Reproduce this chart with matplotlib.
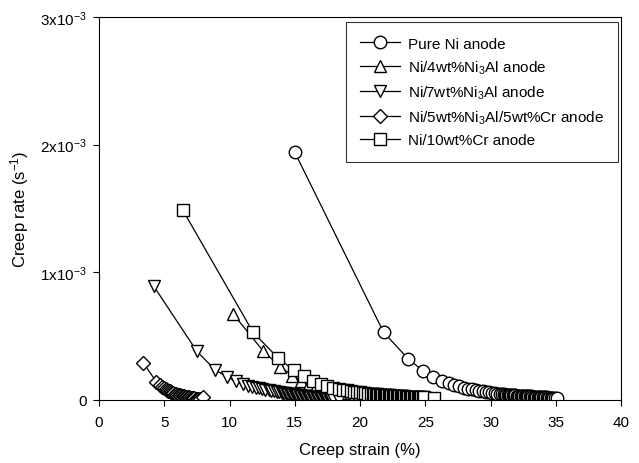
import numpy as np
import matplotlib
matplotlib.use('Agg')
import matplotlib.pyplot as plt

plt.rcParams['font.family'] = ['Liberation Sans', 'DejaVu Sans']
plt.rcParams['mathtext.default'] = 'regular'

# creep strain (%) and creep rate (x1e-3 1/s)
ni_x = [15.0, 21.8, 23.7, 24.8, 25.6, 26.3, 26.8, 27.2, 27.6, 27.95, 28.3, 28.6,
        28.9, 29.15, 29.4, 29.65, 29.9, 30.1, 30.3, 30.5, 30.7, 30.9,
        31.0, 31.1, 31.2, 31.3, 31.4, 31.5, 31.6, 31.7, 31.8, 31.9,
        32.0, 32.1, 32.2, 32.3, 32.4, 32.5, 32.6, 32.7, 32.8, 32.9,
        33.0, 33.1, 33.2, 33.3, 33.4, 33.5, 33.6, 33.7, 33.8, 33.9,
        34.0, 34.1, 34.2, 34.3, 34.4, 34.5, 34.6, 34.7, 34.8, 34.9, 35.1]
ni_y = [1.94, 0.53, 0.32, 0.23, 0.18, 0.15, 0.132, 0.118, 0.106, 0.097, 0.089, 0.082,
        0.076, 0.071, 0.066, 0.062, 0.058, 0.055, 0.052, 0.049, 0.047, 0.045,
        0.043, 0.042, 0.041, 0.040, 0.039, 0.038, 0.037, 0.036, 0.0355, 0.035,
        0.034, 0.0335, 0.033, 0.032, 0.0315, 0.031, 0.030, 0.0295, 0.029, 0.028,
        0.0275, 0.027, 0.026, 0.0255, 0.025, 0.024, 0.0235, 0.023, 0.022, 0.0215,
        0.021, 0.020, 0.0195, 0.019, 0.018, 0.0175, 0.017, 0.016, 0.0155, 0.015, 0.012]

al4_x = [10.3, 12.6, 13.9, 14.8, 15.5, 16.1, 16.6, 17.0, 17.4, 17.8, 18.1, 18.4,
         18.7, 19.0, 19.3, 19.6, 19.9, 20.2, 20.5, 20.8, 21.1, 21.4, 21.7, 22.0,
         22.3, 22.6, 22.9, 23.2, 23.5, 23.8, 24.1]
al4_y = [0.67, 0.38, 0.26, 0.19, 0.15, 0.125, 0.107, 0.094, 0.084, 0.076, 0.070, 0.064,
         0.059, 0.055, 0.051, 0.047, 0.044, 0.041, 0.038, 0.035, 0.033, 0.031, 0.029, 0.027,
         0.025, 0.023, 0.021, 0.019, 0.017, 0.015, 0.013]

al7_x = [4.2, 7.5, 8.9, 9.8, 10.5, 11.0, 11.4, 11.7, 12.0, 12.25, 12.5, 12.75,
         13.0, 13.2, 13.4, 13.6, 13.8,
         14.0, 14.1, 14.2, 14.3, 14.4, 14.5, 14.6, 14.7, 14.8, 14.9,
         15.0, 15.1, 15.2, 15.3, 15.4, 15.5, 15.6, 15.7, 15.8, 15.9,
         16.0, 16.1, 16.2, 16.3, 16.4, 16.5, 16.6, 16.7, 16.8, 16.9,
         17.0, 17.1, 17.2, 17.3, 17.4, 17.5, 17.6, 17.7, 17.8, 17.9, 18.4]
al7_y = [0.89, 0.38, 0.235, 0.18, 0.145, 0.125, 0.112, 0.103, 0.096, 0.090, 0.085, 0.080,
         0.075, 0.071, 0.067, 0.063, 0.059,
         0.056, 0.0545, 0.053, 0.0515, 0.050, 0.0485, 0.047, 0.0455, 0.044, 0.0425,
         0.041, 0.0395, 0.038, 0.0365, 0.035, 0.0335, 0.032, 0.0305, 0.029, 0.028,
         0.0265, 0.025, 0.024, 0.0225, 0.021, 0.020, 0.019, 0.018, 0.017, 0.016,
         0.015, 0.014, 0.013, 0.012, 0.011, 0.010, 0.009, 0.008, 0.007, 0.006, 0.002]

alcr_x = [3.4, 4.4, 4.7, 4.85, 5.0, 5.1, 5.2, 5.3, 5.4, 5.5, 5.6, 5.7,
          5.8, 5.9, 6.0, 6.1, 6.2, 6.3, 6.4, 6.5, 6.6, 6.7, 6.8, 6.9,
          7.0, 7.1, 7.2, 7.3, 7.4, 7.5, 7.6, 7.7, 8.0]
alcr_y = [0.29, 0.14, 0.115, 0.10, 0.09, 0.083, 0.077, 0.071, 0.066, 0.061, 0.057, 0.053,
          0.049, 0.045, 0.042, 0.039, 0.036, 0.033, 0.030, 0.027, 0.025, 0.023, 0.021, 0.019,
          0.017, 0.015, 0.013, 0.011, 0.009, 0.007, 0.006, 0.005, 0.025]

cr_x = [6.4, 11.8, 13.7, 14.9, 15.7, 16.4, 17.0, 17.5, 17.95, 18.35, 18.7, 19.0,
        19.3, 19.55, 19.8, 20.0, 20.2, 20.4, 20.6, 20.8,
        21.0, 21.1, 21.2, 21.3, 21.4, 21.5, 21.6, 21.7, 21.8, 21.9,
        22.0, 22.1, 22.2, 22.3, 22.4, 22.5, 22.6, 22.7, 22.8, 22.9,
        23.0, 23.1, 23.2, 23.3, 23.4, 23.5, 23.6, 23.7, 23.8, 23.9,
        24.0, 24.1, 24.2, 24.3, 24.4, 24.5, 24.6, 24.7, 24.8, 24.9, 25.7]
cr_y = [1.49, 0.53, 0.33, 0.235, 0.19, 0.15, 0.125, 0.11, 0.097, 0.088, 0.080, 0.074,
        0.069, 0.065, 0.061, 0.058, 0.055, 0.052, 0.050, 0.048,
        0.046, 0.045, 0.044, 0.043, 0.042, 0.041, 0.040, 0.039, 0.038, 0.0375,
        0.037, 0.036, 0.035, 0.0345, 0.034, 0.033, 0.0325, 0.032, 0.031, 0.0305,
        0.030, 0.029, 0.0285, 0.028, 0.027, 0.0265, 0.026, 0.025, 0.0245, 0.024,
        0.0235, 0.023, 0.0225, 0.022, 0.0215, 0.021, 0.0205, 0.020, 0.0195, 0.019, 0.015]

series = [
    (ni_x, ni_y, 'o', 'Pure Ni anode'),
    (al4_x, al4_y, '^', 'Ni/4wt%Ni$_3$Al anode'),
    (al7_x, al7_y, 'v', 'Ni/7wt%Ni$_3$Al anode'),
    (alcr_x, alcr_y, 'D', 'Ni/5wt%Ni$_3$Al/5wt%Cr anode'),
    (cr_x, cr_y, 's', 'Ni/10wt%Cr anode'),
]
msize = {'o': 9, '^': 9, 'v': 9, 'D': 7, 's': 8.5}

fig = plt.figure(figsize=(6.39, 4.64), dpi=100)
ax = fig.add_axes([0.155, 0.136, 0.817, 0.825])

for x, y, m, lab in series:
    ax.plot(x, np.array(y) * 1e-3, '-', color='black', lw=0.9, marker=m,
            ms=msize[m], mfc='white', mec='black', mew=1.0, label=lab)

ax.set_xlim(0, 40)
ax.set_ylim(0, 3e-3)
ax.set_xticks(np.arange(0, 41, 5))
ax.set_yticks([0, 1e-3, 2e-3, 3e-3])
ax.set_yticklabels(['0', '1x10$^{-3}$', '2x10$^{-3}$', '3x10$^{-3}$'])
ax.tick_params(labelsize=11, width=0.8, length=4, direction='out')
ax.tick_params(axis='x', pad=7)
ax.tick_params(axis='y', pad=5)
for s in ax.spines.values():
    s.set_linewidth(0.8)

ax.set_xlabel('Creep strain (%)', fontsize=12, labelpad=9)
ax.set_ylabel('Creep rate (s$^{-1}$)', fontsize=12, labelpad=6)

leg = ax.legend(loc='upper right', bbox_to_anchor=(0.994, 0.987), fontsize=11,
                frameon=True, fancybox=False, handlelength=2.6,
                borderpad=0.95, labelspacing=0.5, handletextpad=0.5,
                borderaxespad=0)
leg.get_frame().set_edgecolor('black')
leg.get_frame().set_linewidth(0.8)

plt.savefig('out.png', dpi=100)
